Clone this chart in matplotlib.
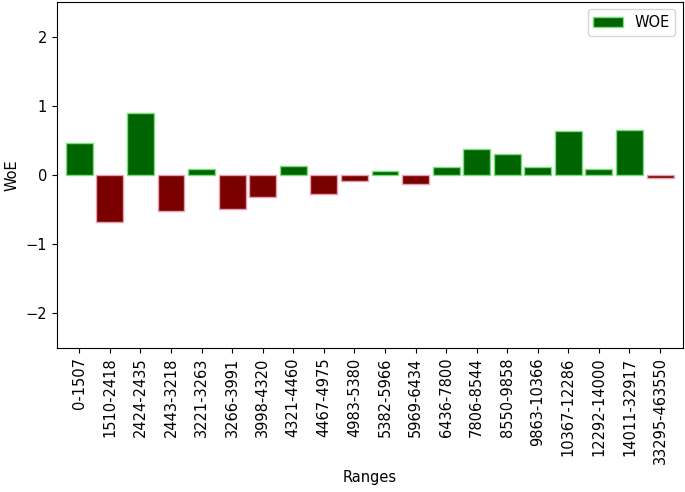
import matplotlib

matplotlib.use("Agg")
import matplotlib.pyplot as plt
import numpy as np

ranges = [
    "0-1507", "1510-2418", "2424-2435", "2443-3218", "3221-3263",
    "3266-3991", "3998-4320", "4321-4460", "4467-4975", "4983-5380",
    "5382-5966", "5969-6434", "6436-7800", "7806-8544", "8550-9858",
    "9863-10366", "10367-12286", "12292-14000", "14011-32917", "33295-463550",
]
woe = [
    0.46, -0.68, 0.89, -0.52, 0.09,
    -0.49, -0.32, 0.13, -0.27, -0.09,
    0.06, -0.13, 0.11, 0.38, 0.30,
    0.11, 0.64, 0.09, 0.65, -0.05,
]

plt.rcParams["font.size"] = 10.5

woe = np.array(woe)
x = np.arange(len(ranges))
pos = woe >= 0
fill = np.where(pos, "#006400", "#7a0000")
edge = np.where(pos, "#7be07b", "#e8a0b0")

fig = plt.figure(figsize=(6.85, 4.92), dpi=100)
ax = fig.add_axes([0.0828, 0.2933, 0.9138, 0.7027])
bars = ax.bar(x, woe, width=0.88, color=fill, edgecolor=edge, linewidth=1.0)
bars[0].set_label("WOE")

ax.set_xlim(-0.74, len(ranges) - 0.26)
ax.set_ylim(-2.5, 2.5)
ax.set_yticks([-2, -1, 0, 1, 2])
ax.set_xticks(x)
ax.set_xticklabels(ranges, rotation=90)
ax.set_xlabel("Ranges")
ax.set_ylabel("WoE")
ax.legend(loc="upper right")

fig.savefig("out.png")
plt.close(fig)
